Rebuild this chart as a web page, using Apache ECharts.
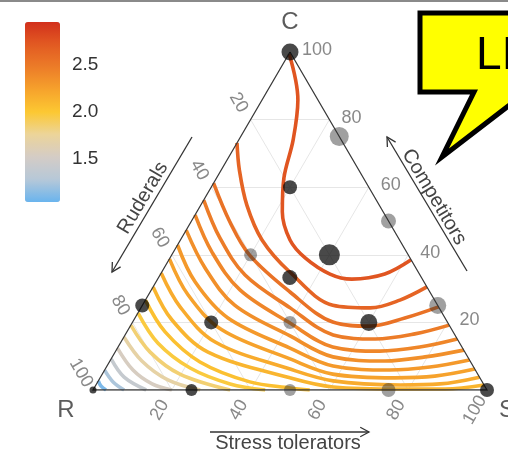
<!DOCTYPE html>
<html>
<head>
<meta charset="utf-8">
<script src="https://cdn.jsdelivr.net/npm/echarts@6/dist/echarts.min.js"></script>
</head>
<body style="margin:0;background:#fff">
<div id="main" style="width:508px;height:452px;"></div>
<script>
// ternary values are [C, S] in percent, R = 100 - C - S
var tickValues = [20, 40, 60, 80, 100];
var gridValues = [20, 40, 60, 80];
var vertexNames = ['C', 'R', 'S'];
var vertexC = [100, 0, 0];
var vertexS = [0, 0, 100];

var cbMin = 1.04, cbMax = 2.96;
var cbTicks = [1.5, 2.0, 2.5];
var cbColors = ['#6ab4ee', '#b6c8d8', '#d4ccc6', '#ecd49a', '#fcc832', '#f6a22c', '#ec7c28', '#e25a22', '#d2301c'];

// sites
var ptC = [100, 75, 60, 50, 40, 40, 33.3, 25, 20, 20, 20, 25, 0, 0, 0, 0, 0];
var ptS = [0, 25, 20, 50, 40, 20, 33.3, 75, 60, 40, 20, 0, 0, 25, 50, 75, 100];
var ptSize = [17, 19, 14, 15, 21, 13, 15, 17, 17, 13, 14, 14, 7, 12, 12, 14, 14];
var ptGrey = [0, 1, 0, 1, 0, 1, 0, 1, 0, 1, 0, 0, 0, 0, 1, 1, 0];

var contourLevels = [2.75, 2.65, 2.55, 2.48, 2.42, 2.36, 2.3, 2.24, 2.18, 2.12, 2.05, 1.97, 1.85, 1.7, 1.55, 1.4, 1.25, 1.1];
var contourPaths = [
  [[99.4, 0.1], [85.8, 9.1], [74, 13.8], [62.7, 17.1], [52.7, 21.7], [44.4, 27.8], [39.1, 34.3], [34.3, 43], [32.8, 49.3], [34.3, 56.9], [38.5, 61.5]],
  [[73.1, 0], [65.1, 4.6], [54.7, 11.7], [44.4, 20.7], [34.9, 32.5], [25.1, 48.3], [24.3, 58.2], [26.6, 64.6], [30.5, 69.5]],
  [[61.2, 0], [49.7, 9.9], [39.9, 19.8], [29, 35.5], [20.1, 50.8], [18.9, 60.8], [21.3, 68.5], [24.6, 75.4]],
  [[56.2, 0], [45, 9.7], [34, 21.6], [24.3, 37.9], [16.3, 52.8], [15.1, 64.1], [16.6, 73.4], [19.2, 80.8]],
  [[51.8, 0], [40.8, 9.8], [29.6, 22.5], [19.8, 40.1], [12.7, 54.5], [11.5, 67], [12.7, 76.6], [15.1, 84.9]],
  [[47.3, 0], [36.1, 10.4], [25.1, 23.4], [16, 42], [9.8, 56], [8.6, 69.8], [9.8, 79.4], [11.8, 88.2]],
  [[42.9, 0], [32, 9.9], [21.3, 23.6], [12.4, 43.8], [7.1, 57.4], [5.9, 72.4], [6.8, 82.1], [8.9, 91.1]],
  [[38.8, 0], [28.1, 10.1], [17.8, 23.8], [9.2, 45.4], [4.7, 58.5], [3.6, 74.8], [4.1, 84.7], [6.2, 93.8]],
  [[34.6, 0], [24.6, 9.8], [14.2, 23.9], [6.2, 46.9], [2.7, 59.6], [1.5, 77.2], [1.8, 87.2], [3.8, 96.2]],
  [[30.5, 0], [20.7, 9.7], [11.2, 23.6], [3.6, 48.2], [0.9, 60.5], [0.3, 77.8], [0.3, 89.2], [1.5, 98.5]],
  [[26.6, 0], [17.2, 9.7], [8.3, 23], [2.4, 38.6], [0.6, 49.7], [0, 55]],
  [[22.8, 0], [13.9, 9.5], [6.5, 21.4], [1.8, 33.9], [0, 43.7]],
  [[19.2, 0], [11.2, 8.9], [4.7, 19.7], [0, 34.8]],
  [[15.7, 0], [8.6, 8.1], [3, 17.5], [0, 27.2]],
  [[12.4, 0], [5.9, 7.2], [1.8, 14.1], [0, 20]],
  [[9.2, 0], [3.8, 6], [0, 13.5]],
  [[5.9, 0], [2.4, 3.9], [0, 7.9]],
  [[2.7, 0], [1.2, 1.4], [0, 3.3]]
];

var FONT = "'Liberation Sans', Arial, sans-serif";
var chart = echarts.init(document.getElementById('main'));

// ternary -> cartesian (x along R-S edge, y = C)
function tern(c, s) { return [s + c / 2, c]; }
function lvlColor(v) { return echarts.color.lerp((v - cbMin) / (cbMax - cbMin), cbColors); }
// label offset given on screen, turned into the rotated label frame
function rotOff(dx, dy, deg) {
  var t = deg * Math.PI / 180;
  return [dx * Math.cos(t) - dy * Math.sin(t), dx * Math.sin(t) + dy * Math.cos(t)];
}
function arrowPts(x1, y1, x2, y2, len) {
  var a = Math.atan2(y2 - y1, x2 - x1);
  return [[x2 - len * Math.cos(a - 0.5), y2 - len * Math.sin(a - 0.5)], [x2, y2],
          [x2 - len * Math.cos(a + 0.5), y2 - len * Math.sin(a + 0.5)]];
}

var series = [];

// faint ternary grid
var gridData = [];
gridValues.forEach(function (k) {
  gridData.push({coords: [tern(k, 0), tern(k, 100 - k)]});
  gridData.push({coords: [tern(0, k), tern(100 - k, k)]});
  gridData.push({coords: [tern(100 - k, 0), tern(0, 100 - k)]});
});
series.push({
  type: 'lines', coordinateSystem: 'cartesian2d', data: gridData, silent: true, z: 1,
  lineStyle: {color: '#e6e6e6', width: 1, opacity: 1}
});

// contours
contourPaths.forEach(function (path, i) {
  series.push({
    type: 'line', smooth: 0.35, showSymbol: false, silent: true, z: 2,
    data: path.map(function (p) { return tern(p[0], p[1]); }),
    lineStyle: {color: lvlColor(contourLevels[i]), width: 3.6}
  });
});

// triangle
series.push({
  type: 'lines', coordinateSystem: 'cartesian2d', polyline: true, silent: true, z: 3,
  data: [{coords: [tern(100, 0), tern(0, 0), tern(0, 100), tern(100, 0)]}],
  lineStyle: {color: '#3a3a3a', width: 1.3, opacity: 1}
});

// sites
series.push({
  type: 'scatter', z: 4, silent: true,
  data: ptC.map(function (c, i) {
    return {
      value: tern(c, ptS[i]),
      symbolSize: ptSize[i],
      itemStyle: {color: ptGrey[i] ? 'rgba(50,50,50,0.58)' : 'rgba(8,8,8,0.92)'}
    };
  })
});

function tickLabels(points, label) {
  return {
    type: 'scatter', symbolSize: 0, silent: true, z: 5, data: points,
    label: Object.assign({
      show: true, fontSize: 18, color: '#6a6a6a', fontFamily: FONT,
      formatter: function (p) { return String(tickValues[p.dataIndex]); }
    }, label)
  };
}
// Competitors (right edge)
series.push(tickLabels(tickValues.map(function (k) { return tern(k, 100 - k); }),
  {position: 'right', distance: 12, offset: [0, -2]}));
// Ruderals (left edge)
series.push(tickLabels(tickValues.map(function (k) { return tern(100 - k, 0); }),
  {position: 'inside', rotate: -60, offset: rotOff(-12, -17, -60)}));
// Stress tolerators (bottom edge)
series.push(tickLabels(tickValues.map(function (k) { return tern(0, k); }),
  {position: 'inside', rotate: 60, offset: rotOff(-12, 20, 60)}));

// vertex letters
var vertexOffsets = [[0, -30], [-27, 20], [20, 20]];
series.push({
  type: 'scatter', symbolSize: 0, silent: true, z: 5,
  data: vertexC.map(function (c, i) {
    return {value: tern(c, vertexS[i]), label: {offset: vertexOffsets[i]}};
  }),
  label: {
    show: true, position: 'inside', fontSize: 24, color: '#333', fontFamily: FONT,
    formatter: function (p) { return vertexNames[p.dataIndex]; }
  }
});

// dummy series holding the colour scale
series.push({type: 'scatter', xAxisIndex: 1, yAxisIndex: 1, data: []});
var dummyIdx = series.length - 1;

var bubble = [[420, 13], [520, 13], [520, 97], [442, 157], [474, 92], [420, 92]];

var option = {
  animation: false,
  backgroundColor: '#fff',
  grid: [
    {left: 93, top: 52, width: 394, height: 338},
    {left: 25, top: 22, width: 35, height: 180}
  ],
  xAxis: [
    {type: 'value', min: 0, max: 100, show: false},
    {type: 'value', gridIndex: 1, min: 0, max: 1, show: false}
  ],
  yAxis: [
    {type: 'value', min: 0, max: 100, show: false},
    {
      type: 'value', gridIndex: 1, min: cbMin, max: cbMax, position: 'right',
      axisLine: {show: false}, axisTick: {show: false}, splitLine: {show: false},
      axisLabel: {
        customValues: cbTicks, margin: 12, fontSize: 19, color: '#333', fontFamily: FONT,
        formatter: function (v) { return v.toFixed(1); }
      }
    }
  ],
  visualMap: {
    type: 'continuous', min: cbMin, max: cbMax, calculable: false, seriesIndex: dummyIdx,
    inRange: {color: cbColors}, itemWidth: 35, itemHeight: 180, left: 20, top: 17,
    padding: 5, text: null, hoverLink: false
  },
  series: series,
  graphic: [
    {type: 'rect', shape: {x: 0, y: 0, width: 508, height: 2}, style: {fill: '#8a8a8a'}},
    {type: 'polygon', shape: {points: bubble}, style: {fill: '#ffff00', stroke: '#000', lineWidth: 5, lineJoin: 'miter'}},
    {type: 'text', x: 476, y: 56, style: {text: 'LI', font: '46px ' + FONT, fill: '#000', verticalAlign: 'middle'}},
    // axis titles with arrows
    {type: 'polyline', shape: {points: [[192, 137], [112, 272]]}, style: {stroke: '#333', lineWidth: 1.3, fill: null}},
    {type: 'polyline', shape: {points: arrowPts(192, 137, 112, 272, 10)}, style: {stroke: '#333', lineWidth: 1.3, fill: null}},
    {type: 'text', x: 143, y: 198, rotation: 59.3 * Math.PI / 180,
     style: {text: 'Ruderals', font: '20px ' + FONT, fill: '#444', align: 'center', verticalAlign: 'middle'}},
    {type: 'polyline', shape: {points: [[467, 271], [387, 137]]}, style: {stroke: '#333', lineWidth: 1.3, fill: null}},
    {type: 'polyline', shape: {points: arrowPts(467, 271, 387, 137, 10)}, style: {stroke: '#333', lineWidth: 1.3, fill: null}},
    {type: 'text', x: 434, y: 197, rotation: -59.3 * Math.PI / 180,
     style: {text: 'Competitors', font: '20px ' + FONT, fill: '#444', align: 'center', verticalAlign: 'middle'}},
    {type: 'polyline', shape: {points: [[210, 432], [369, 432]]}, style: {stroke: '#333', lineWidth: 1.3, fill: null}},
    {type: 'polyline', shape: {points: arrowPts(210, 432, 369, 432, 10)}, style: {stroke: '#333', lineWidth: 1.3, fill: null}},
    {type: 'text', x: 288, y: 443,
     style: {text: 'Stress tolerators', font: '20px ' + FONT, fill: '#444', align: 'center', verticalAlign: 'middle'}}
  ]
};
chart.setOption(option);
</script>
</body>
</html>
